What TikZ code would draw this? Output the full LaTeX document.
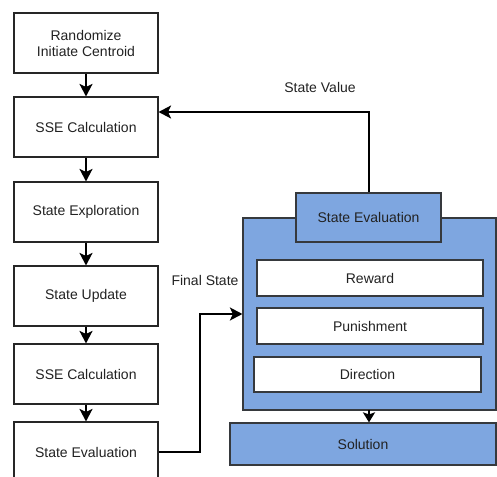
\documentclass[tikz,border=0pt]{standalone}
\usepackage{fontspec}
\setmainfont{Liberation Sans}
\usetikzlibrary{arrows.meta}
\definecolor{evalblue}{HTML}{7EA6E0}
\definecolor{edge}{HTML}{36393D}
\definecolor{ink}{HTML}{222222}
\tikzset{
  stepbox/.style={draw=black!85, line width=1.1pt, fill=white, minimum width=144pt,
    minimum height=60pt, inner sep=0pt, font=\fontsize{14}{16}\selectfont, align=center,
    text=ink},
  bluebox/.style={draw=edge, line width=1.2pt, fill=evalblue, inner sep=0pt, text=ink},
  itembox/.style={draw=edge, line width=1.1pt, fill=white, inner sep=0pt,
    font=\fontsize{14}{16}\selectfont, text=ink},
  flow/.style={draw=black, line width=1.9pt, -{Stealth[length=12.5pt,width=13pt,inset=3pt]}},
  shortflow/.style={draw=black, line width=1.9pt, -{Stealth[length=10pt,width=12pt,inset=2pt]}},
  lbl/.style={font=\fontsize{14}{16}\selectfont, inner sep=0pt, text=ink}
}
\begin{document}
\begin{tikzpicture}[x=1pt,y=-1pt]
\useasboundingbox (0,0) rectangle (497,476);
\clip (0,0) rectangle (497,476);

% left column of process steps
\node[stepbox] (rand) at (86,43) {Randomize\\Initiate Centroid};
\node[stepbox] (sse1) at (86,127) {SSE Calculation};
\node[stepbox] (expl) at (86,212) {State Exploration};
\node[stepbox] (upd)  at (86,296) {State Update};
\node[stepbox] (sse2) at (86,374) {SSE Calculation};
\node[stepbox] (eval) at (86,452) {State Evaluation};

\draw[flow] (rand) -- (sse1);
\draw[flow] (sse1) -- (expl);
\draw[flow] (expl) -- (upd);
\draw[flow] (upd) -- (sse2);
\draw[flow] (sse2) -- (eval);

% evaluation block
\node[bluebox, minimum width=253pt, minimum height=192pt] (block) at (369.5,314) {};
\node[bluebox, minimum width=145pt, minimum height=49pt,
      font=\fontsize{14}{16}\selectfont] (head) at (368.5,217.5) {State Evaluation};
\node[itembox, minimum width=226pt, minimum height=36pt] (rew) at (370,278) {Reward};
\node[itembox, minimum width=226pt, minimum height=36pt] (pun) at (370,326) {Punishment};
\node[itembox, minimum width=227pt, minimum height=35pt] (dir) at (367.5,374.5) {Direction};

\node[bluebox, minimum width=266pt, minimum height=42pt,
      font=\fontsize{14}{16}\selectfont] (sol) at (363,444) {Solution};
\draw[shortflow, shorten <=-0.6pt] (block.south -| 369,0) -- (sol.north -| 369,0);

% feedback and hand-over connectors
\coordinate (up) at (369,112);
\draw[flow] (head.north -| up) -- (up) -- (sse1.east |- up);
\node[lbl] (sv) at (320,87) {State Value};

\coordinate (bend) at (200,314);
\draw[flow] (eval.east) -- (eval.east -| bend) -- (bend) -- (block.west |- bend);
\node[lbl] (fs) at (205,280) {Final State};
\end{tikzpicture}
\end{document}
